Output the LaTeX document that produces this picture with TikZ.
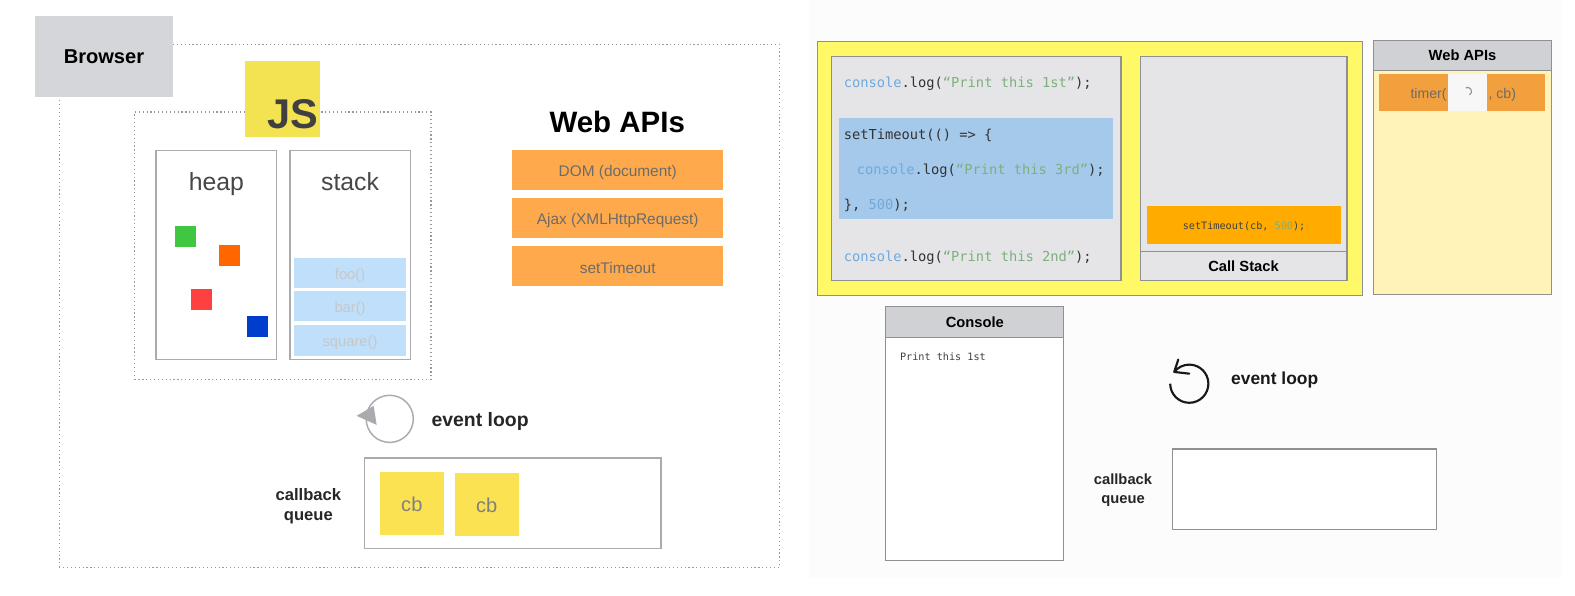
\documentclass[tikz,border=0pt]{standalone}
\usepackage{fontspec}
\usepackage{xcolor}
\setmainfont{Liberation Sans}
\newfontfamily\codefont{DejaVu Sans Mono}
\definecolor{edgegray}{HTML}{A9ABAF}
\definecolor{panelgray}{HTML}{E5E5E8}
\definecolor{headgray}{HTML}{D0D1D5}
\definecolor{paneledge}{HTML}{8F9092}
\definecolor{jsblue}{HTML}{6FA9DE}
\definecolor{jsgreen}{HTML}{7DB07D}
\definecolor{framefill}{HTML}{BFDFFB}
\definecolor{codeblue}{HTML}{A5C9EA}
\definecolor{apifill}{HTML}{FFA94D}
\definecolor{timerfill}{HTML}{F2A03D}
\definecolor{runfill}{HTML}{FFAB00}
\definecolor{logofill}{HTML}{F3E353}
\definecolor{cardfill}{HTML}{FBE253}
\definecolor{mainfill}{HTML}{FFF968}
\definecolor{webfill}{HTML}{FFF3B8}
\newcommand{\jsid}[1]{\textcolor{jsblue}{#1}}
\newcommand{\jsstr}[1]{\textcolor{jsgreen}{#1}}
\usetikzlibrary{positioning}

\begin{document}
\begin{tikzpicture}[x=0.75pt,y=0.75pt,
  every node/.style={inner sep=0pt,outer sep=0pt},
  box/.style 2 args={rectangle,minimum width=#1*0.75pt,minimum height=#2*0.75pt},
  framed/.style={draw=edgegray,line width=1.1pt,fill=white},
  dotbox/.style={draw=black!40,dotted,line width=0.9pt},
  bigword/.style={text=black!72,text height=13pt,text depth=4pt,font=\fontsize{18.5}{20}\selectfont},
  frame/.style={box={112}{30},fill=framefill,text=black!22,text height=12pt,text depth=2.5pt,font=\fontsize{11}{13}\selectfont},
  blob/.style={box={21}{21}},
  apibar/.style={box={210}{40},fill=apifill,text=black!58,text height=13pt,text depth=2.5pt,font=\fontsize{11.5}{14}\selectfont},
  cbcard/.style={box={64}{63},fill=cardfill,text=black!50,text height=13pt,text depth=0pt,font=\fontsize{15}{18}\selectfont},
  title/.style={text=black!85,font=\bfseries\fontsize{14.5}{15}\selectfont,align=center},
  code/.style={anchor=west,text=black!80,font=\codefont\fontsize{10.25}{12}\selectfont},
  smallcode/.style={text=black!75,font=\codefont\fontsize{7.6}{9}\selectfont},
  panel/.style={draw=paneledge,line width=0.8pt,anchor=north west},
  paneltop/.style={box={177}{31},panel,fill=headgray,font=\bfseries\fontsize{11}{13}\selectfont}]
  \useasboundingbox (0,0) rectangle (1568,-593.3);
  \node[box={750}{575},fill=black!1,anchor=north west] (rightside) at (805,0) {};
  % left half
  \node[box={717}{521},dotbox] (browserarea) at (417.5,-304.5) {};
  \node[box={137}{81},fill=headgray!90] (browser) at (103.5,-56.5) {\bfseries\fontsize{15}{18}\selectfont Browser};
  \node[box={295}{266},dotbox] (engine) at (281.5,-244.5) {};
  \node[box={75}{75},fill=logofill,anchor=south west] (jslogo) at (244,-136) {};
  \node[text=black!75,font=\bfseries\fontsize{31}{32}\selectfont,anchor=south east] (jstext) at (317,-128) {JS};
  \node[box={120}{208},framed] (heap) at (215.5,-254) {};
  \node[box={120}{208},framed] (stack) at (348.5,-254) {};
  \node[bigword] (heaplabel) at (215.5,-184) {heap};
  \node[bigword] (stacklabel) at (348.5,-184) {stack};
  \node[blob,fill=green!70!black!75] (greenblob) at (185,-235) {};
  \node[blob,fill=orange!80!red] (orangeblob) at (228.5,-254) {};
  \node[blob,fill=red!75!white] (redblob) at (200.5,-298) {};
  \node[blob,fill=blue!70!cyan!80!black] (blueblob) at (256,-325) {};
  \node[frame] (foo) at (348.5,-272) {foo()};
  \node[frame] (bar) at (348.5,-305) {bar()};
  \node[frame] (square) at (348.5,-339) {square()};
  \node[font=\bfseries\fontsize{22}{24}\selectfont] (webapis) at (614.5,-121) {Web APIs};
  \node[apibar] (dom) at (615,-169) {DOM (document)};
  \node[apibar] (ajax) at (615,-217) {Ajax (XMLHttpRequest)};
  \node[apibar] (timeout) at (615,-265) {setTimeout};
  \coordinate (loopcentre) at (388,-417);
  \draw[edgegray,line width=1.1pt] (loopcentre) ++(170:17.6pt) arc (170:-190:17.6pt);
  \fill[edgegray] (355,-414) -- (372,-404) -- (375,-423) -- cycle;
  \node[title] (looplabel) at (478,-420) {event loop};
  \node[box={295}{90},framed] (queue) at (510.5,-501) {};
  \node[cbcard] (cbone) at (410,-501) {cb};
  \node[cbcard] (cbtwo) at (484.5,-502) {cb};
  \node[title,font=\bfseries\fontsize{12.4}{15.5}\selectfont] (queuelabel) at (307,-504) {callback\\queue};
  % right half
  \node[box={542}{253},panel,fill=mainfill] (mainbg) at (814,-41) {};
  \node[box={288}{223},panel,fill=panelgray] (codepanel) at (828,-56) {};
  \node[box={273}{101},fill=codeblue,anchor=north west] (highlight) at (835,-117) {};
  \node[code] (lineone) at (840,-83) {\jsid{console}.log(\jsstr{“Print this 1st”});};
  \node[code] (linetwo) at (840,-135) {setTimeout(() => \{};
  \node[code] (linethree) at (853,-170) {\jsid{console}.log(\jsstr{“Print this 3rd”});};
  \node[code] (linefour) at (840,-204) {\}, \jsid{500});};
  \node[code] (linefive) at (840,-257) {\jsid{console}.log(\jsstr{“Print this 2nd”});};
  \node[box={206}{223},panel,fill=panelgray] (callstack) at (1135,-56) {};
  \draw[paneledge,line width=0.8pt] (1135,-250) coordinate (splitl) -- (1341,-250) coordinate (splitr);
  \node[box={193}{38},fill=runfill,smallcode,text height=8pt,text depth=2pt] (frameone) at (1238.5,-224) {setTimeout(cb, \textcolor{jsgreen}{500});};
  \node[font=\bfseries\fontsize{11}{13}\selectfont] (stacklbl) at (1238,-265) {Call Stack};
  \node[box={178}{253},panel,fill=webfill] (webpanel) at (1367,-40) {};
  \node[box={178}{30},panel,fill=headgray,font=\bfseries\fontsize{11}{13}\selectfont] (webhead) at (1367,-40) {Web APIs};
  \node[box={165}{37},fill=black!3,anchor=north west] (timerbg) at (1373,-74) {};
  \node[box={69}{37},fill=timerfill,anchor=north west] (timerl) at (1373,-74) {};
  \node[box={58}{37},fill=timerfill,anchor=north west] (timerr) at (1480,-74) {};
  \node[text=black!58,font=\fontsize{10.5}{12}\selectfont,anchor=east] (timertext) at (1440,-94) {timer(};
  \node[text=black!58,font=\fontsize{10.5}{12}\selectfont,anchor=west] (cbtext) at (1482,-94) {, cb)};
  \coordinate (spinner) at (1461,-91);
  \draw[black!45,line width=0.8pt] (spinner) ++(120:3pt) arc (120:-60:3pt);
  \node[box={177}{253},panel,fill=white] (console) at (882,-305) {};
  \node[paneltop] (consolehead) at (882,-305) {Console};
  \node[smallcode,anchor=west] (printed) at (896,-355) {Print this 1st};
  \coordinate (loopright) at (1184,-382);
  \draw[black!90,line width=1.6pt] (loopright) ++(180:14.25pt) arc (180:502:14.25pt) coordinate (looptip);
  \draw[black!90,line width=1.6pt,line join=round,line cap=round] (1173,-358) -- (looptip) -- (1184,-372);
  \node[title,text=black!90,font=\bfseries\fontsize{13}{15}\selectfont] (loopword) at (1269,-378) {event loop};
  \node[box={263}{80},panel,fill=white] (queuebox) at (1167,-447) {};
  \node[title,font=\bfseries\fontsize{11}{14}\selectfont] (queueword) at (1118,-488) {callback\\queue};
\end{tikzpicture}
\end{document}
